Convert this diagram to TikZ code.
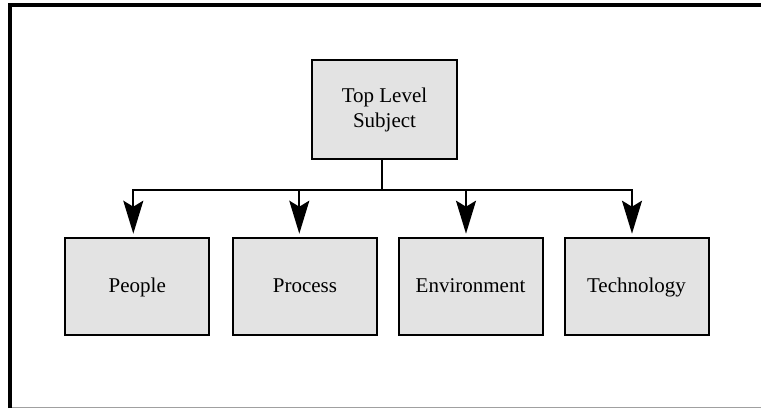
\documentclass[tikz,border=0pt]{standalone}
\usepackage{fontspec}
\setmainfont{Liberation Serif}
\usetikzlibrary{arrows.meta,calc}
\definecolor{boxfill}{HTML}{E3E3E3}
\definecolor{rulegray}{HTML}{A0A0A0}
\tikzset{
  box/.style={draw=black, line width=2pt, fill=boxfill, minimum width=144pt, minimum height=97pt,
    inner sep=0pt, align=center, font=\fontsize{21}{25}\selectfont},
  leaf/.style={box, text height=15.5pt, text depth=3.5pt},
  conn/.style={line width=2pt},
  arr/.style={line width=2pt, -{Stealth[length=33pt, width=20pt, inset=6pt]}, shorten >=3.5pt},
}
\begin{document}
\begin{tikzpicture}[x=1pt, y=-1pt]
\useasboundingbox (0,0) rectangle (761,408);
% frame
\draw[line width=4pt] (10,408) -- (10,5) -- (761,5);
\draw[rulegray, line width=1pt] (12,407.5) -- (761,407.5);
% nodes
\node[box, minimum width=145pt, minimum height=99pt] (top) at (384.5,109.5) {Top Level\\Subject};
\node[leaf] (people) at (137.3,286.7) {People};
\node[leaf] (process) at (305,286.7) {Process};
\node[leaf] (env) at (470.5,286.7) {Environment};
\node[leaf] (tech) at (636.5,286.7) {Technology};
% bus coordinates
\coordinate (t0) at (382.3,190.3);
\coordinate (b1) at (133.3,190.3);
\coordinate (b2) at (299.3,190.3);
\coordinate (b3) at (466,190.3);
\coordinate (b4) at (632,190.3);
\draw[conn] (t0 |- top.south) -- (t0);
\draw[conn] ([xshift=-1pt]b1) -- ([xshift=1pt]b4);
\draw[arr] (b1) -- (b1 |- people.north);
\draw[arr] (b2) -- (b2 |- process.north);
\draw[arr] (b3) -- (b3 |- env.north);
\draw[arr] (b4) -- (b4 |- tech.north);
\end{tikzpicture}
\end{document}
